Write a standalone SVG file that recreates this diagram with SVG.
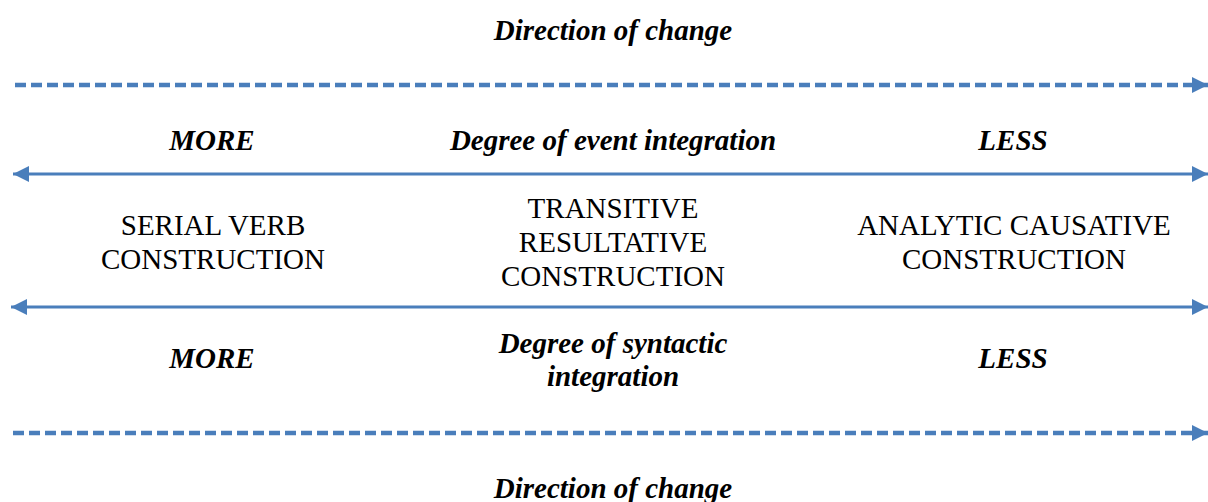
<svg xmlns="http://www.w3.org/2000/svg" width="1208" height="502" viewBox="0 0 1208 502">
  <style>
    .lbl { font-family: "Liberation Serif", "Times New Roman", serif; font-size: 29px; font-weight: bold; font-style: italic; fill: #000; text-anchor: middle; }
    .node { font-family: "Liberation Serif", "Times New Roman", serif; font-size: 29px; fill: #000; text-anchor: middle; }
    .dash { stroke: #4A7EBB; stroke-width: 4.5; stroke-dasharray: 11 5; fill: none; }
    .solid { stroke: #4A7EBB; stroke-width: 3; fill: none; }
  </style>
  <defs>
    <marker id="head" viewBox="0 0 10 10" refX="10" refY="5" markerUnits="userSpaceOnUse" markerWidth="16" markerHeight="16" orient="auto-start-reverse">
      <path d="M0,0 L10,5 L0,10 Z" fill="#4A7EBB"/>
    </marker>
  </defs>

  <!-- axis captions -->
  <text class="lbl" x="613" y="40">Direction of change</text>
  <text class="lbl" x="212" y="150">MORE</text>
  <text class="lbl" x="613" y="150">Degree of event integration</text>
  <text class="lbl" x="1013" y="150">LESS</text>
  <text class="lbl" x="212" y="368">MORE</text>
  <text class="lbl" x="613" y="353">Degree of syntactic</text>
  <text class="lbl" x="613" y="386">integration</text>
  <text class="lbl" x="1013" y="368">LESS</text>
  <text class="lbl" x="613" y="498">Direction of change</text>

  <!-- connectors -->
  <g id="connectors">
    <line class="dash" x1="15" y1="85" x2="1208" y2="85" marker-end="url(#head)"/>
    <line class="solid" x1="13" y1="174" x2="1208" y2="174" marker-start="url(#head)" marker-end="url(#head)"/>
    <line class="solid" x1="11" y1="307" x2="1208" y2="307" marker-start="url(#head)" marker-end="url(#head)"/>
    <line class="dash" x1="13" y1="433" x2="1208" y2="433" marker-end="url(#head)"/>
  </g>

  <!-- constructions -->
  <g id="serial-verb">
    <text class="node" x="213" y="235">SERIAL VERB</text>
    <text class="node" x="213" y="269">CONSTRUCTION</text>
  </g>
  <g id="transitive-resultative">
    <text class="node" x="613" y="218">TRANSITIVE</text>
    <text class="node" x="613" y="252">RESULTATIVE</text>
    <text class="node" x="613" y="286">CONSTRUCTION</text>
  </g>
  <g id="analytic-causative">
    <text class="node" x="1014" y="235">ANALYTIC CAUSATIVE</text>
    <text class="node" x="1014" y="269">CONSTRUCTION</text>
  </g>
</svg>
